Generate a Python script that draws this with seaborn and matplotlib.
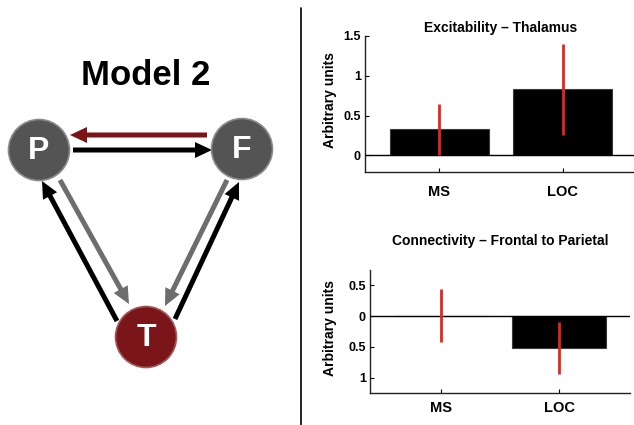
import matplotlib
matplotlib.use('Agg')
import matplotlib.pyplot as plt
import seaborn as sns
from matplotlib.patches import Circle, FancyArrow
from matplotlib.lines import Line2D

# Bar chart data
groups = ['MS', 'LOC']
excitability = [0.325, 0.83]
excitability_err = [0.325, 0.57]
connectivity = [0.01, -0.52]
connectivity_err = [0.43, 0.42]

# Model diagram: node names and colours
nodes = ['P', 'F', 'T']
node_colors = ['#545454', '#545454', '#7a1519']

sns.set_style('ticks')
plt.rcParams['font.family'] = ['Liberation Sans', 'DejaVu Sans']
plt.rcParams['font.weight'] = 'bold'
plt.rcParams['axes.titleweight'] = 'bold'
plt.rcParams['axes.labelweight'] = 'bold'
for key in ['text.color', 'axes.labelcolor', 'xtick.color', 'ytick.color']:
    plt.rcParams[key] = 'black'

W, H = 634, 425
fig = plt.figure(figsize=(W / 100, H / 100), dpi=100)
fig.patch.set_facecolor('white')


def px_axes(left, top, right, bottom):
    return fig.add_axes([left / W, 1 - bottom / H, (right - left) / W, (bottom - top) / H])


# ---- left: model diagram (pixel coordinates) ----
dax = fig.add_axes([0, 0, 300 / W, 1])
dax.set_xlim(0, 300)
dax.set_ylim(H, 0)
dax.axis('off')

dax.text(146, 75, 'Model 2', ha='center', va='center', fontsize=25, fontweight='bold')

arrows = [
    ((207, 135), (70, 135), '#7b1416'),
    ((73, 150), (212, 150), 'black'),
    ((60, 180), (129, 304), '#6d6d6d'),
    ((227, 180), (165, 306), '#6d6d6d'),
    ((117, 321), (42, 181), 'black'),
    ((175, 319), (239, 182), 'black'),
]
for (x0, y0), (x1, y1), c in arrows:
    dax.add_patch(FancyArrow(x0, y0, x1 - x0, y1 - y0, width=5, head_width=16,
                             head_length=17, length_includes_head=True,
                             color=c, lw=0, zorder=2))

centers = [(39, 150), (242, 149), (146, 337)]
for name, (cx, cy), c in zip(nodes, centers, node_colors):
    edge = '#8c8c8c' if name != 'T' else '#a35a5a'
    dax.add_patch(Circle((cx, cy), 30.5, facecolor=c, edgecolor=edge, lw=1.2, zorder=3))
    dax.text(cx, cy + 1, name, ha='center', va='center', color='white',
             fontsize=23, fontweight='bold', zorder=4)

fig.add_artist(Line2D([301 / W, 301 / W], [0, 1 - 8 / H], color='black', lw=1.2))


# ---- right: bar charts ----
def bar_panel(ax, values, errs, title, ylim, ticks, ticklabels, title_pad, xpad):
    sns.barplot(x=groups, y=values, color='black', width=0.8, saturation=1,
                edgecolor='#3a3a3a', linewidth=0.8, ax=ax)
    ax.errorbar(range(len(groups)), values, yerr=errs, fmt='none',
                ecolor='#e3261d', elinewidth=2, capsize=0, zorder=5)
    ax.axhline(0, color='black', lw=1, zorder=4)
    ax.set_xlim(-0.6, 1.6)
    ax.set_ylim(*ylim)
    ax.set_yticks(ticks)
    ax.set_yticklabels(ticklabels)
    ax.set_title(title, fontsize=10, pad=title_pad)
    ax.set_ylabel('Arbitrary units', fontsize=10)
    ax.set_xlabel('')
    sns.despine(ax=ax)
    for s in ['left', 'bottom']:
        ax.spines[s].set_linewidth(1)
        ax.spines[s].set_color('#222222')
    ax.tick_params(axis='y', direction='in', length=3, labelsize=9, pad=3)
    ax.tick_params(axis='x', direction='in', length=3, labelsize=10.5, pad=xpad)


ax1 = px_axes(365, 36, 637, 172)
bar_panel(ax1, excitability, excitability_err, 'Excitability \u2013 Thalamus',
          (-0.21, 1.5), [0, 0.5, 1, 1.5], ['0', '0.5', '1', '1.5'], 3, 9)
ax1.yaxis.set_label_coords(-0.103, 0.53)

ax2 = px_axes(370, 270, 630, 393)
bar_panel(ax2, connectivity, connectivity_err, 'Connectivity \u2013 Frontal to Parietal',
          (-1.25, 0.75), [0.5, 0, -0.5, -1], ['0.5', '0', '0.5', '1'], 18, 6)
ax2.yaxis.set_label_coords(-0.127, 0.53)

fig.savefig('out.png', dpi=100, facecolor='white')
